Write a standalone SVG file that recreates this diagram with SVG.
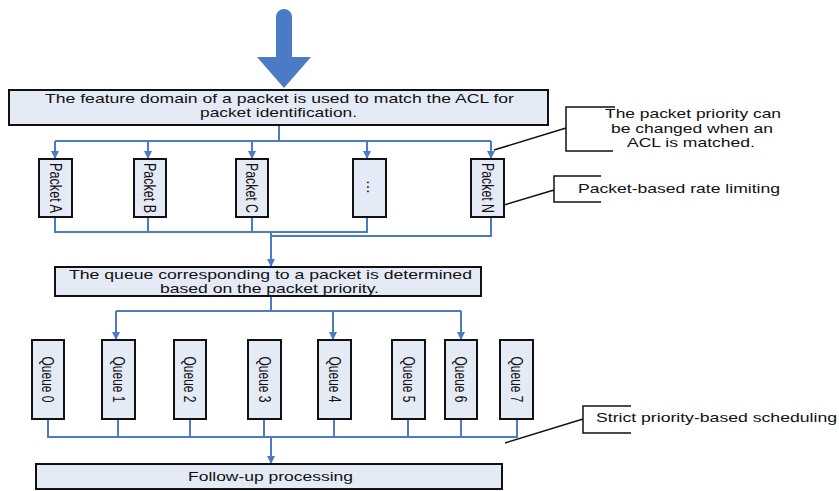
<svg xmlns="http://www.w3.org/2000/svg" width="839" height="491" viewBox="0 0 839 491">
<defs>
<marker id="ah" viewBox="0 0 10 10" refX="10" refY="5" markerWidth="9" markerHeight="8" markerUnits="userSpaceOnUse" orient="auto">
<path d="M0,0 L10,5 L0,10 z" fill="#4a7bc4"/>
</marker>
<style>
.box{fill:#e5ebf6;stroke:#111;stroke-width:2}
.t{font-family:"Liberation Sans",Arial,sans-serif;font-size:13px;fill:#111}
.v{font-family:"Liberation Sans",Arial,sans-serif;font-size:16px;fill:#111}
.c{fill:none;stroke:#4a7bc4;stroke-width:2}
.a{marker-end:url(#ah)}
.k{fill:none;stroke:#111;stroke-width:1.5}
</style>
</defs>
<rect width="839" height="491" fill="#fff"/>

<g id="input-arrow">
<path d="M276,17 A8,8 0 0 1 292,17 L292,57 L311,57 L284,88 L257,57 L276,57 Z" fill="#4a7bc4"/>
</g>

<g id="connectors">
<path class="c" d="M279,125 V141 M55,141 H491"/>
<path class="c a" d="M55,141 V159"/>
<path class="c a" d="M148,141 V159"/>
<path class="c a" d="M252,141 V159"/>
<path class="c a" d="M367,141 V159"/>
<path class="c a" d="M491,141 V159"/>
<path class="c" d="M55,217 V232 M148,217 V232 M252,217 V232 M367,217 V232 M54,232 H368 M491,217 V236 H271"/>
<path class="c a" d="M271,232 V267"/>
<path class="c" d="M271,296 V311 M116,311 H461"/>
<path class="c a" d="M116,311 V340"/>
<path class="c a" d="M333,311 V340"/>
<path class="c a" d="M461,311 V340"/>
<path class="c" d="M48,419 V437 M118,419 V437 M190,419 V437 M264,419 V437 M334,419 V437 M408,419 V437 M461,419 V437 M517,419 V437 M47,437 H518"/>
<path class="c a" d="M271,437 V464"/>
</g>

<g id="acl-match">
<rect class="box" x="9" y="90" width="539" height="35"/>
<text class="t" x="279.5" y="103" text-anchor="middle" textLength="469" lengthAdjust="spacingAndGlyphs">The feature domain of a packet is used to match the ACL for</text>
<text class="t" x="278.5" y="117" text-anchor="middle" textLength="157" lengthAdjust="spacingAndGlyphs">packet identification.</text>
</g>

<g id="packet-a"><rect class="box" x="39" y="159" width="33" height="58"/><text class="v" transform="translate(55.5,188) rotate(90)" x="0" y="6" text-anchor="middle" textLength="50" lengthAdjust="spacingAndGlyphs">Packet A</text></g>
<g id="packet-b"><rect class="box" x="134" y="159" width="32" height="58"/><text class="v" transform="translate(150,188) rotate(90)" x="0" y="6" text-anchor="middle" textLength="50" lengthAdjust="spacingAndGlyphs">Packet B</text></g>
<g id="packet-c"><rect class="box" x="236" y="159" width="32" height="58"/><text class="v" transform="translate(252,188) rotate(90)" x="0" y="6" text-anchor="middle" textLength="50" lengthAdjust="spacingAndGlyphs">Packet C</text></g>
<g id="packet-etc"><rect class="box" x="353" y="159" width="33" height="58"/><text class="v" transform="translate(369.5,187) rotate(90)" x="0" y="3" text-anchor="middle" font-size="9">...</text></g>
<g id="packet-n"><rect class="box" x="471" y="159" width="33" height="58"/><text class="v" transform="translate(487.5,188) rotate(90)" x="0" y="6" text-anchor="middle" textLength="50" lengthAdjust="spacingAndGlyphs">Packet N</text></g>

<g id="queue-select">
<rect class="box" x="55" y="267" width="426" height="29"/>
<text class="t" x="270.5" y="278.5" text-anchor="middle" font-size="12.5" textLength="403" lengthAdjust="spacingAndGlyphs">The queue corresponding to a packet is determined</text>
<text class="t" x="269.5" y="292.5" text-anchor="middle" font-size="12.5" textLength="219" lengthAdjust="spacingAndGlyphs">based on the packet priority.</text>
</g>

<g id="queue-0"><rect class="box" x="32" y="340" width="32" height="79"/><text class="v" transform="translate(48,379.5) rotate(90)" x="0" y="6" text-anchor="middle" textLength="46" lengthAdjust="spacingAndGlyphs">Queue 0</text></g>
<g id="queue-1"><rect class="box" x="102" y="340" width="33" height="79"/><text class="v" transform="translate(118.5,379.5) rotate(90)" x="0" y="6" text-anchor="middle" textLength="46" lengthAdjust="spacingAndGlyphs">Queue 1</text></g>
<g id="queue-2"><rect class="box" x="174" y="340" width="32" height="79"/><text class="v" transform="translate(190,379.5) rotate(90)" x="0" y="6" text-anchor="middle" textLength="46" lengthAdjust="spacingAndGlyphs">Queue 2</text></g>
<g id="queue-3"><rect class="box" x="248" y="340" width="33" height="79"/><text class="v" transform="translate(264.5,379.5) rotate(90)" x="0" y="6" text-anchor="middle" textLength="46" lengthAdjust="spacingAndGlyphs">Queue 3</text></g>
<g id="queue-4"><rect class="box" x="318" y="340" width="33" height="79"/><text class="v" transform="translate(334.5,379.5) rotate(90)" x="0" y="6" text-anchor="middle" textLength="46" lengthAdjust="spacingAndGlyphs">Queue 4</text></g>
<g id="queue-5"><rect class="box" x="392" y="340" width="33" height="79"/><text class="v" transform="translate(408.5,379.5) rotate(90)" x="0" y="6" text-anchor="middle" textLength="46" lengthAdjust="spacingAndGlyphs">Queue 5</text></g>
<g id="queue-6"><rect class="box" x="445" y="340" width="32" height="79"/><text class="v" transform="translate(461,379.5) rotate(90)" x="0" y="6" text-anchor="middle" textLength="46" lengthAdjust="spacingAndGlyphs">Queue 6</text></g>
<g id="queue-7"><rect class="box" x="500" y="340" width="33" height="79"/><text class="v" transform="translate(516.5,379.5) rotate(90)" x="0" y="6" text-anchor="middle" textLength="46" lengthAdjust="spacingAndGlyphs">Queue 7</text></g>

<g id="follow-up">
<rect class="box" x="36" y="464" width="466" height="25"/>
<text class="t" x="270.5" y="481" text-anchor="middle" textLength="165" lengthAdjust="spacingAndGlyphs">Follow-up processing</text>
</g>

<g id="note-priority">
<path class="k" d="M615,107 H566 V151 H613 M566,128 L494,150"/>
<text class="t" x="693" y="118" text-anchor="middle" textLength="176" lengthAdjust="spacingAndGlyphs">The packet priority can</text>
<text class="t" x="692" y="133" text-anchor="middle" textLength="162" lengthAdjust="spacingAndGlyphs">be changed when an</text>
<text class="t" x="691" y="147" text-anchor="middle" textLength="128" lengthAdjust="spacingAndGlyphs">ACL is matched.</text>
</g>

<g id="note-rate">
<path class="k" d="M601,176 H554 V202 H601 M554,190 L504,205"/>
<text class="t" x="578" y="193" textLength="202" lengthAdjust="spacingAndGlyphs">Packet-based rate limiting</text>
</g>

<g id="note-sp">
<path class="k" d="M631,406 H583 V433 H631 M583,419 L505,443"/>
<text class="t" x="596" y="422" textLength="241" lengthAdjust="spacingAndGlyphs">Strict priority-based scheduling</text>
</g>
</svg>
